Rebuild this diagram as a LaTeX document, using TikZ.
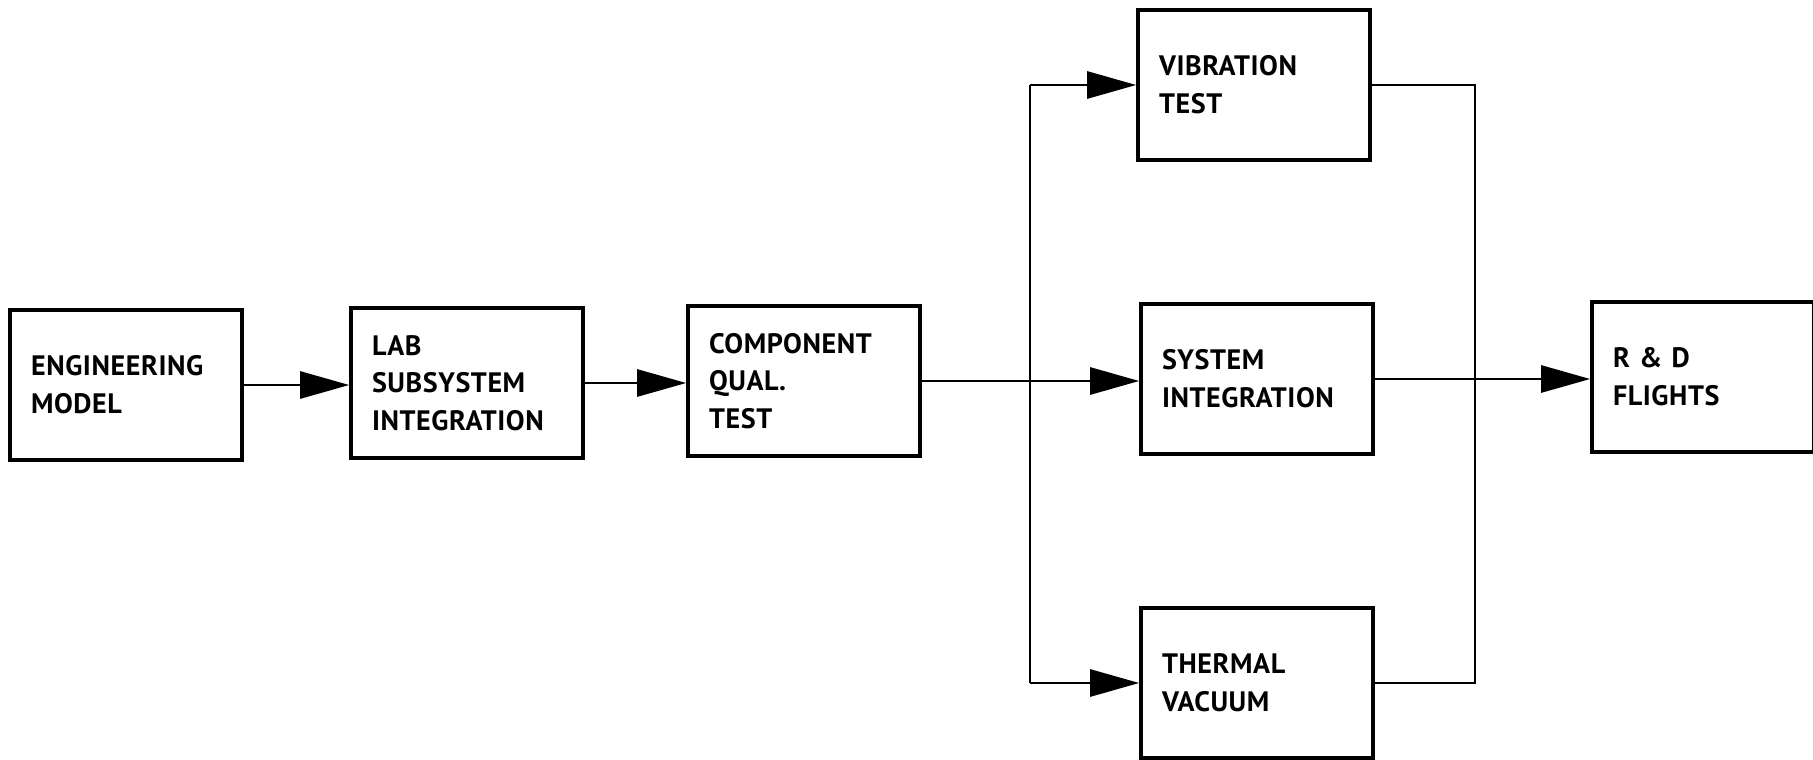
\documentclass[tikz,border=0pt]{standalone}
\usepackage{fontspec}
\setmainfont{PT Sans}[LetterSpace=2]
\usetikzlibrary{arrows.meta}

\tikzset{
  block/.style={draw, line width=2.1pt, rectangle, text width=3.8cm, inner xsep=0.42cm,
    minimum height=3cm, align=left, font=\fontsize{16}{21.5}\selectfont\bfseries},
  link/.style={line width=1.6pt},
  flow/.style={link, -{Triangle[length=0.98cm,width=0.54cm]}}
}

\begin{document}
\begin{tikzpicture}[x=0.02cm, y=-0.02cm]
        \useasboundingbox (0,0) rectangle (1813,760);

        % Chain
        \node[block] (eng) at (126,385) {ENGINEERING\\MODEL};
        \node[block] (lab) at (467,383) {LAB\\SUBSYSTEM\\INTEGRATION};
        \node[block] (comp) at (804,381) {COMPONENT\\QUAL.\\TEST};

        % Parallel tests
        \node[block] (vib) at (1254,85) {VIBRATION\\TEST};
        \node[block] (sys) at (1257,379) {SYSTEM\\INTEGRATION};
        \node[block] (therm) at (1257,683) {THERMAL\\VACUUM};

        % Flights
        \node[block, text width=3.6cm] (rd) at (1703,377) {R \& D\\FLIGHTS};

        % Split and join points
        \coordinate (split) at (1030,380);
        \coordinate (join) at (1475,379);

        % Connectors
        \draw[flow] (eng.east) -- (eng.east -| lab.west);
        \draw[flow] (lab.east) -- (lab.east -| comp.west);
        \draw[flow] (comp.east) -- (comp.east -| sys.west);
        \draw[link] (vib.west -| split) -- (therm.west -| split);
        \draw[flow] (vib.west -| split) -- (vib.west);
        \draw[flow] (therm.west -| split) -- (therm.west);
        \draw[link] (vib.east) -| (join) |- (therm.east);
        \draw[flow] (sys.east) -- (sys.east -| rd.west);
    \end{tikzpicture}
\end{document}
